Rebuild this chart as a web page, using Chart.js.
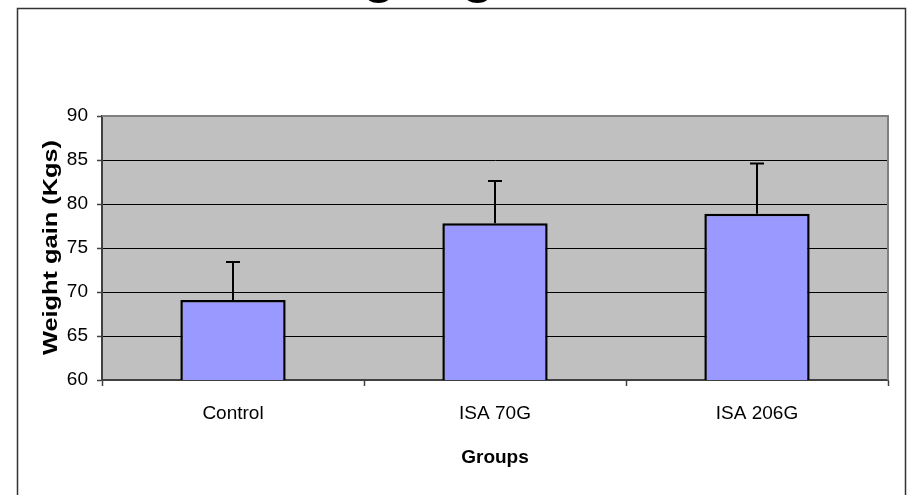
<!DOCTYPE html>
<html>
<head>
<meta charset="utf-8">
<script src="https://cdn.jsdelivr.net/npm/chart.js@4.4.0/dist/chart.umd.min.js"></script>
<style>
  html, body { margin: 0; padding: 0; background: #ffffff; }
  #wrap { width: 907px; height: 495px; position: relative; }
</style>
</head>
<body>
<div id="wrap"><canvas id="c" width="907" height="495"></canvas></div>
<script>
const chartTitle = 'Weight gain';
const categories = ['Control', 'ISA 70G', 'ISA 206G'];
const means = [69.1, 77.8, 78.9];
const errors = [4.3, 4.8, 5.7];
const yMin = 60, yMax = 90, yStep = 5;
const xTitle = 'Groups';
const yTitle = 'Weight gain (Kgs)';

const FONT = "'Liberation Sans', Arial, sans-serif";

const decorPlugin = {
  id: 'decor',
  beforeDraw(chart) {
    const { ctx, chartArea: a } = chart;
    ctx.save();
    ctx.fillStyle = '#ffffff';
    ctx.fillRect(0, 0, chart.width, chart.height);
    ctx.fillStyle = '#C0C0C0';
    ctx.fillRect(a.left, a.top, a.right - a.left, a.bottom - a.top);
    ctx.restore();
  },
  afterDatasetsDraw(chart) {
    const { ctx } = chart;
    const meta = chart.getDatasetMeta(0);
    const ys = chart.scales.y;
    ctx.save();
    ctx.strokeStyle = '#000000';
    ctx.lineWidth = 2;
    meta.data.forEach((bar, i) => {
      const yTop = ys.getPixelForValue(means[i] + errors[i]);
      ctx.beginPath();
      ctx.moveTo(bar.x, bar.y);
      ctx.lineTo(bar.x, yTop);
      ctx.moveTo(bar.x - 7, yTop);
      ctx.lineTo(bar.x + 7, yTop);
      ctx.stroke();
    });
    ctx.restore();
  },
  afterDraw(chart) {
    const { ctx, chartArea: a } = chart;
    ctx.save();
    ctx.strokeStyle = '#808080';
    ctx.lineWidth = 2;
    ctx.beginPath();
    ctx.moveTo(a.left, a.top);
    ctx.lineTo(a.right, a.top);
    ctx.lineTo(a.right, a.bottom);
    ctx.stroke();
    ctx.strokeStyle = '#333333';
    ctx.lineWidth = 1.5;
    ctx.beginPath();
    ctx.moveTo(17.5, chart.height + 5);
    ctx.lineTo(17.5, 8.5);
    ctx.lineTo(905.5, 8.5);
    ctx.lineTo(905.5, chart.height + 5);
    ctx.stroke();
    ctx.fillStyle = '#000000';
    ctx.font = "bold 54px " + FONT;
    ctx.textAlign = 'center';
    ctx.textBaseline = 'alphabetic';
    ctx.fillText(chartTitle, 420, -8.5);
    ctx.font = "bold 19px " + FONT;
    ctx.fillText(xTitle, (a.left + a.right) / 2, 463);
    ctx.translate(56.5, 247.5);
    ctx.rotate(-Math.PI / 2);
    ctx.font = "bold 19.5px " + FONT;
    const w = ctx.measureText(yTitle).width;
    ctx.scale(215 / w, 1);
    ctx.fillText(yTitle, 0, 0);
    ctx.restore();
  }
};

new Chart(document.getElementById('c'), {
  type: 'bar',
  data: {
    labels: categories,
    datasets: [{
      data: means,
      backgroundColor: '#9999FF',
      borderColor: '#000000',
      borderWidth: 2.5,
      borderSkipped: false,
      barPercentage: 0.402,
      categoryPercentage: 1.0
    }]
  },
  options: {
    responsive: false,
    animation: false,
    layout: { padding: { left: 0, top: 116, right: 19, bottom: 0 } },
    plugins: {
      legend: { display: false },
      tooltip: { enabled: false },
      title: { display: false }
    },
    scales: {
      x: {
        afterFit: s => { s.height = 115; },
        grid: {
          display: true,
          offset: true,
          drawOnChartArea: false,
          drawTicks: true,
          tickLength: 6,
          tickColor: '#404040',
          tickWidth: 1.5
        },
        border: { display: true, color: '#404040', width: 2 },
        ticks: {
          color: '#000000',
          font: { family: FONT, size: 19 },
          padding: 16,
          maxRotation: 0
        }
      },
      y: {
        min: yMin,
        max: yMax,
        afterFit: s => { s.width = 102; },
        grid: {
          color: ctx => (ctx.tick && ctx.tick.value === yMax) ? '#808080' : '#000000',
          lineWidth: 1,
          drawTicks: true,
          tickLength: 5,
          tickColor: '#404040',
          tickWidth: 1.5
        },
        border: { display: true, color: '#404040', width: 2 },
        ticks: {
          stepSize: yStep,
          color: '#000000',
          font: { family: FONT, size: 19 },
          padding: 9
        }
      }
    }
  },
  plugins: [decorPlugin]
});
</script>
</body>
</html>
